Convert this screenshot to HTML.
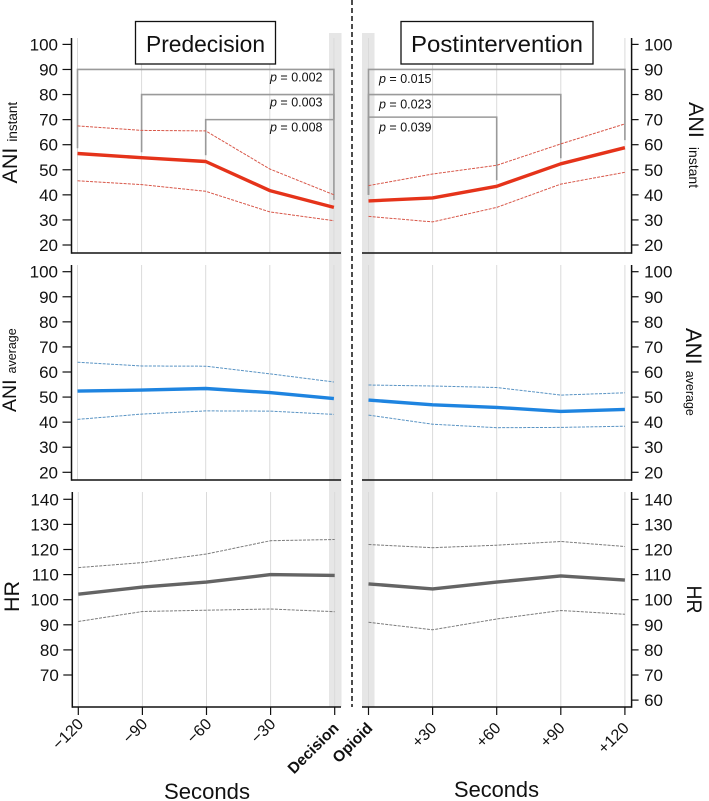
<!DOCTYPE html>
<html>
<head>
<meta charset="utf-8">
<title>ANI and HR, predecision and postintervention</title>
<style>
html,body{margin:0;padding:0;background:#fff;width:709px;height:801px;overflow:hidden}
svg{display:block;font-family:"Liberation Sans",sans-serif}
</style>
</head>
<body>
<svg id="chart" width="709" height="801" viewBox="0 0 709 801">
  <g id="under"></g>
  <g id="marks"></g>
  <g id="axes"></g>
  <g>
    <rect x="135.5" y="21.5" width="140" height="42.5" fill="#fff" stroke="#111" stroke-width="1.3"/>
    <text x="146" y="52" font-size="23" fill="#111" textLength="119" lengthAdjust="spacingAndGlyphs">Predecision</text>
  </g>
  <g>
    <rect x="401" y="21.5" width="192" height="42.5" fill="#fff" stroke="#111" stroke-width="1.3"/>
    <text x="411" y="52" font-size="23" fill="#111" textLength="172" lengthAdjust="spacingAndGlyphs">Postintervention</text>
  </g>
  <line x1="352" y1="0" x2="352" y2="707" stroke="#111" stroke-width="1.5" stroke-dasharray="5 3"/>

  <g fill="#111">
    <text transform="translate(17,183.5) rotate(-90)" font-size="21.5">ANI<tspan dx="6" font-size="13.5">instant</tspan></text>
    <text transform="translate(16,412) rotate(-90)" font-size="19.5">ANI<tspan dx="6" font-size="12.5">average</tspan></text>
    <text transform="translate(19,612) rotate(-90)" font-size="21.5">HR</text>
    <text transform="translate(689,102) rotate(90)" font-size="21.5">ANI<tspan dx="9" font-size="14">instant</tspan></text>
    <text transform="translate(686,328) rotate(90)" font-size="22">ANI<tspan dx="6" font-size="12.5">average</tspan></text>
    <text transform="translate(687,585.5) rotate(90)" font-size="21" textLength="28" lengthAdjust="spacingAndGlyphs">HR</text>
    <text x="164" y="799" font-size="22" textLength="86" lengthAdjust="spacingAndGlyphs">Seconds</text>
    <text x="454" y="797" font-size="22" textLength="85" lengthAdjust="spacingAndGlyphs">Seconds</text>
  </g>
</svg>
<script>
// ---- data ----
const preCategories = ['\u2212120', '\u221290', '\u221260', '\u221230', 'Decision'];
const postCategories = ['Opioid', '+30', '+60', '+90', '+120'];

const aniTicks = [100, 90, 80, 70, 60, 50, 40, 30, 20];
const hrTicksLeft = [140, 130, 120, 110, 100, 90, 80, 70];
const hrTicksRight = [140, 130, 120, 110, 100, 90, 80, 70, 60];

const instantPreMean = [56.5, 54.8, 53.3, 41.7, 35];
const instantPreUpper = [67.5, 65.7, 65.5, 50.3, 40];
const instantPreLower = [45.6, 44.1, 41.4, 33.2, 29.7];
const instantPostMean = [37.6, 38.8, 43.4, 52.4, 58.8];
const instantPostUpper = [43.7, 48.3, 51.8, 60.3, 68.3];
const instantPostLower = [31.4, 29.2, 35, 44.3, 49];

const averagePreMean = [52.4, 52.8, 53.4, 51.8, 49.4];
const averagePreUpper = [63.9, 62.4, 62.3, 59.3, 56];
const averagePreLower = [41.1, 43.2, 44.5, 44.4, 43.1];
const averagePostMean = [48.8, 46.9, 45.9, 44.3, 45.1];
const averagePostUpper = [54.8, 54.4, 53.8, 50.8, 51.7];
const averagePostLower = [42.8, 39.2, 37.8, 37.9, 38.4];

const hrPreMean = [102.2, 105, 107, 110, 109.7];
const hrPreUpper = [112.8, 114.8, 118.2, 123.5, 124];
const hrPreLower = [91.3, 95.3, 95.8, 96.3, 95.2];
const hrPostMean = [106.3, 104.3, 107, 109.5, 107.8];
const hrPostUpper = [122, 120.7, 121.7, 123.2, 121.2];
const hrPostLower = [91, 88, 92.3, 95.7, 94.2];

const preBracketStart = [0, 1, 2];
const preBracketEnd = [4, 4, 4];
const preBracketLevel = [90, 80, 70];
const preBracketStartDrop = [58.6, 57, 55.8];
const preBracketEndDrop = [38, 70, 70];
const preBracketLabels = ['0.002', '0.003', '0.008'];

const postBracketStart = [0, 0, 0];
const postBracketEnd = [4, 3, 2];
const postBracketLevel = [90, 80, 71];
const postBracketStartDrop = [40, 40, 40];
const postBracketEndDrop = [61.8, 54.6, 45.8];
const postBracketLabels = ['0.015', '0.023', '0.039'];

// ---- scales ----
function xScale(x0, step) { return function (i) { return x0 + i * step; }; }
function yScale(vTop, yTop, pxPerUnit) { return function (v) { return yTop + (vTop - v) * pxPerUnit; }; }

const xPre = xScale(77.5, 64.1);
const xPost = xScale(368.5, 64.1);
const xPreLow = xScale(78.3, 64.1);
const yInstant = yScale(100, 44.4, 2.5075);
const yAverage = yScale(100, 271.7, 2.5075);
const yHr = yScale(140, 499.3, 2.51);

const NS = 'http://www.w3.org/2000/svg';
const under = document.getElementById('under');
const marks = document.getElementById('marks');
const axes = document.getElementById('axes');

function make(parent, tag, props) {
  const el = document.createElementNS(NS, tag);
  for (const k in props) el.setAttribute(k, props[k]);
  parent.appendChild(el);
  return el;
}

// ---- event bands ----
[[329, 'decision-band'], [362, 'opioid-band']].forEach(function (b) {
  const el = make(under, 'rect', { x: b[0], y: 33, width: 12.5, height: 674, fill: '#e6e6e6' });
  
  
});

function drawPanel(name, side, x, y, top, bottom, ticks, meanV, upperV, lowerV, color, thin) {
  const g = make(marks, 'g', {});
  
  

  for (let i = 0; i < meanV.length; i++) {
    const grid = make(under, 'line', { x1: x(i), x2: x(i), y1: top, y2: bottom, stroke: '#dadada', 'stroke-width': 1 });
    
    
  }

  function pts(vals) {
    return vals.map(function (v, i) { return x(i).toFixed(1) + ',' + y(v).toFixed(1); }).join(' ');
  }
  const upper = make(g, 'polyline', { points: pts(upperV), fill: 'none', stroke: thin, 'stroke-width': 1, 'stroke-dasharray': '3 1.2' });
  
  
  const lower = make(g, 'polyline', { points: pts(lowerV), fill: 'none', stroke: thin, 'stroke-width': 1, 'stroke-dasharray': '3 1.2' });
  
  
  const mean = make(g, 'polyline', { points: pts(meanV), fill: 'none', stroke: color, 'stroke-width': 3.4, 'stroke-linejoin': 'round' });
  
  

  // axes
  const axisX = side === 'left' ? x(0) - 6 : x(4) + 6.7;
  const ax = make(axes, 'line', { x1: axisX, x2: axisX, y1: top, y2: bottom + 0.7, stroke: '#111', 'stroke-width': 1.5 });
  
  
  const base = make(axes, 'line', {
    x1: side === 'left' ? axisX : 362, x2: side === 'left' ? 341 : axisX,
    y1: bottom, y2: bottom, stroke: '#111', 'stroke-width': 1.5
  });
  
  

  ticks.forEach(function (t) {
    const x1 = side === 'left' ? axisX - 9 : axisX;
    const x2 = side === 'left' ? axisX : axisX + 7;
    const tick = make(axes, 'line', { x1: x1, x2: x2, y1: y(t), y2: y(t), stroke: '#111', 'stroke-width': 1.2 });
    
    
    const label = make(axes, 'text', {
      x: side === 'left' ? axisX - 13.5 : axisX + 12.5,
      y: y(t) + 6, 'font-size': 17, fill: '#111',
      'text-anchor': side === 'left' ? 'end' : 'start'
    });
    label.textContent = t;
    
    
  });
}

const RED = '#e5331a', RED_THIN = '#d8584a';
const BLUE = '#1e84e0', BLUE_THIN = '#5a94c4';
const GREY = '#646464', GREY_THIN = '#7c7c7c';

drawPanel('ani-instant-pre', 'left', xPre, yInstant, 38, 253, aniTicks, instantPreMean, instantPreUpper, instantPreLower, RED, RED_THIN);
drawPanel('ani-instant-post', 'right', xPost, yInstant, 38, 253, aniTicks, instantPostMean, instantPostUpper, instantPostLower, RED, RED_THIN);
drawPanel('ani-average-pre', 'left', xPre, yAverage, 265, 480, aniTicks, averagePreMean, averagePreUpper, averagePreLower, BLUE, BLUE_THIN);
drawPanel('ani-average-post', 'right', xPost, yAverage, 265, 480, aniTicks, averagePostMean, averagePostUpper, averagePostLower, BLUE, BLUE_THIN);
drawPanel('hr-pre', 'left', xPreLow, yHr, 492, 707, hrTicksLeft, hrPreMean, hrPreUpper, hrPreLower, GREY, GREY_THIN);
drawPanel('hr-post', 'right', xPost, yHr, 492, 707, hrTicksRight, hrPostMean, hrPostUpper, hrPostLower, GREY, GREY_THIN);

// ---- significance brackets ----
function drawBrackets(name, x, starts, ends, levels, startDrops, endDrops, labels, labelX, labelOffsets) {
  starts.forEach(function (s, i) {
    const d = 'M' + x(s) + ' ' + yInstant(startDrops[i]) +
      'V' + yInstant(levels[i]) + 'H' + x(ends[i]) + 'V' + yInstant(endDrops[i]);
    const br = make(under, 'path', { d: d, fill: 'none', stroke: '#9a9a9a', 'stroke-width': 1.6 });
    
    
    const t = make(marks, 'text', { x: labelX, y: yInstant(levels[i]) + labelOffsets[i], 'font-size': 12.5, fill: '#111' });
    const p = make(t, 'tspan', { 'font-style': 'italic' });
    p.textContent = 'p';
    const rest = make(t, 'tspan', {});
    rest.textContent = ' = ' + labels[i];
    
    
  });
}
drawBrackets('predecision', xPre, preBracketStart, preBracketEnd, preBracketLevel, preBracketStartDrop, preBracketEndDrop, preBracketLabels, 270, [12, 12, 12]);
drawBrackets('postintervention', xPost, postBracketStart, postBracketEnd, postBracketLevel, postBracketStartDrop, postBracketEndDrop, postBracketLabels, 379, [13.5, 14, 14.5]);

// ---- x axis ticks and labels ----
function drawXLabels(name, x, cats, boldIndex, dx, dy, boldDx, boldDy) {
  cats.forEach(function (c, i) {
    const tick = make(axes, 'line', { x1: x(i), x2: x(i), y1: 707, y2: 715, stroke: '#111', 'stroke-width': 1.2 });
    
    
    const bold = i === boldIndex;
    const lx = x(i) + (bold ? boldDx : dx);
    const ly = bold ? boldDy : dy;
    const label = make(axes, 'text', {
      transform: 'translate(' + lx + ',' + ly + ') rotate(-45)',
      'text-anchor': 'end', 'font-size': bold ? 15.5 : 16,
      'font-weight': bold ? 'bold' : 'normal', fill: '#111'
    });
    label.textContent = c;
    
    
  });
}
drawXLabels('predecision', xPreLow, preCategories, 4, 6, 725, 5, 729);
drawXLabels('postintervention', xPost, postCategories, 0, 5, 729, 5, 729);
</script>
</body>
</html>
